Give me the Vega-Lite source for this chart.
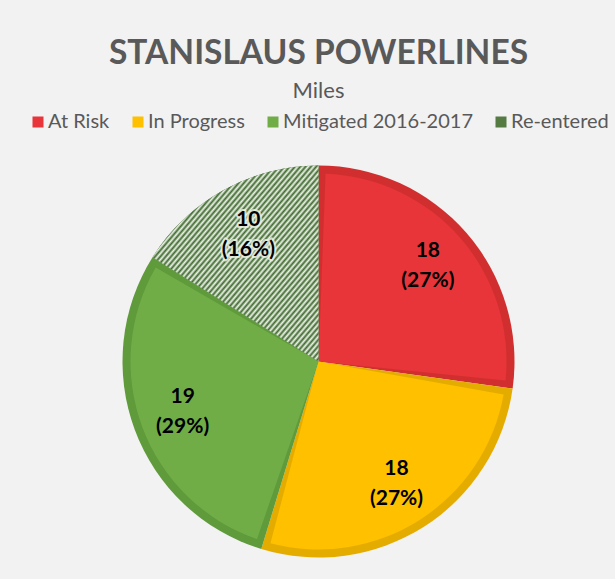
{
  "$schema": "https://vega.github.io/schema/vega-lite/v6.json",
  "width": 615,
  "height": 579,
  "autosize": {"type": "fit", "contains": "padding"},
  "padding": {"left": 22, "right": 0, "top": 36, "bottom": 4},
  "background": "#f2f2f2",
  "title": {
    "text": "STANISLAUS POWERLINES",
    "subtitle": "Miles",
    "anchor": "middle",
    "font": "Lato",
    "fontSize": 33.5,
    "fontWeight": "bold",
    "color": "#595959",
    "subtitleFont": "Lato",
    "subtitleFontSize": 22,
    "subtitleColor": "#595959",
    "subtitlePadding": 10,
    "offset": 9
  },
  "config": {
    "view": {"stroke": null},
    "legend": {"layout": {"top": {"anchor": "middle"}}}
  },
  "data": {
    "values": [
      {"cat": "At Risk", "miles": 17.6, "pct": "(27%)"},
      {"cat": "In Progress", "miles": 17.8, "pct": "(27%)"},
      {"cat": "Mitigated 2016-2017", "miles": 18.9, "pct": "(29%)"},
      {"cat": "Re-entered", "miles": 10.4, "pct": "(16%)"}
    ]
  },
  "encoding": {
    "theta": {"field": "miles", "type": "quantitative", "stack": true},
    "detail": {"field": "cat", "type": "nominal"},
    "order": {"field": "cat", "type": "nominal", "sort": "ascending"}
  },
  "layer": [
    {
      "mark": {"type": "arc", "outerRadius": 196},
      "encoding": {
        "fill": {
          "condition": [
            {"test": "datum.cat === 'At Risk'", "value": "#d12f2f"},
            {"test": "datum.cat === 'In Progress'", "value": "#e5ac00"},
            {"test": "datum.cat === 'Mitigated 2016-2017'", "value": "#5f9a3b"}
          ],
          "value": "#406b2e"
        }
      }
    },
    {
      "mark": {"type": "arc", "outerRadius": 188, "padAngle": 0.075},
      "encoding": {
        "color": {
          "field": "cat",
          "type": "nominal",
          "scale": {
            "domain": ["At Risk", "In Progress", "Mitigated 2016-2017", "Re-entered"],
            "range": ["#e8353a", "#ffc000", "#70ad47", "#557a42"]
          },
          "legend": {
            "orient": "top",
            "direction": "horizontal",
            "title": null,
            "labelFont": "Lato",
            "labelFontSize": 20,
            "labelColor": "#595959",
            "labelLimit": 400,
            "symbolType": "square",
            "symbolSize": 121,
            "symbolStrokeWidth": 0,
            "columnPadding": 18,
            "labelOffset": 0,
            "offset": 16
          }
        }
      }
    },
    {
      "mark": {
        "type": "arc",
        "outerRadius": 196,
        "fill": {
          "gradient": "linear",
          "x1": 0, "y1": 0, "x2": 1, "y2": 1,
          "stops": [
            {"offset": 0, "color": "#3f6a2e"}, {"offset": 0.008, "color": "#eef3ea"},
            {"offset": 0.016, "color": "#3f6a2e"}, {"offset": 0.024, "color": "#eef3ea"},
            {"offset": 0.032, "color": "#3f6a2e"}, {"offset": 0.04, "color": "#eef3ea"},
            {"offset": 0.048, "color": "#3f6a2e"}, {"offset": 0.056, "color": "#eef3ea"},
            {"offset": 0.064, "color": "#3f6a2e"}, {"offset": 0.072, "color": "#eef3ea"},
            {"offset": 0.08, "color": "#3f6a2e"}, {"offset": 0.088, "color": "#eef3ea"},
            {"offset": 0.096, "color": "#3f6a2e"}, {"offset": 0.104, "color": "#eef3ea"},
            {"offset": 0.112, "color": "#3f6a2e"}, {"offset": 0.12, "color": "#eef3ea"},
            {"offset": 0.128, "color": "#3f6a2e"}, {"offset": 0.136, "color": "#eef3ea"},
            {"offset": 0.144, "color": "#3f6a2e"}, {"offset": 0.152, "color": "#eef3ea"},
            {"offset": 0.16, "color": "#3f6a2e"}, {"offset": 0.168, "color": "#eef3ea"},
            {"offset": 0.176, "color": "#3f6a2e"}, {"offset": 0.184, "color": "#eef3ea"},
            {"offset": 0.192, "color": "#3f6a2e"}, {"offset": 0.2, "color": "#eef3ea"},
            {"offset": 0.208, "color": "#3f6a2e"}, {"offset": 0.216, "color": "#eef3ea"},
            {"offset": 0.224, "color": "#3f6a2e"}, {"offset": 0.232, "color": "#eef3ea"},
            {"offset": 0.24, "color": "#3f6a2e"}, {"offset": 0.248, "color": "#eef3ea"},
            {"offset": 0.256, "color": "#3f6a2e"}, {"offset": 0.264, "color": "#eef3ea"},
            {"offset": 0.272, "color": "#3f6a2e"}, {"offset": 0.28, "color": "#eef3ea"},
            {"offset": 0.288, "color": "#3f6a2e"}, {"offset": 0.296, "color": "#eef3ea"},
            {"offset": 0.304, "color": "#3f6a2e"}, {"offset": 0.312, "color": "#eef3ea"},
            {"offset": 0.32, "color": "#3f6a2e"}, {"offset": 0.328, "color": "#eef3ea"},
            {"offset": 0.336, "color": "#3f6a2e"}, {"offset": 0.344, "color": "#eef3ea"},
            {"offset": 0.352, "color": "#3f6a2e"}, {"offset": 0.36, "color": "#eef3ea"},
            {"offset": 0.368, "color": "#3f6a2e"}, {"offset": 0.376, "color": "#eef3ea"},
            {"offset": 0.384, "color": "#3f6a2e"}, {"offset": 0.392, "color": "#eef3ea"},
            {"offset": 0.4, "color": "#3f6a2e"}, {"offset": 0.408, "color": "#eef3ea"},
            {"offset": 0.416, "color": "#3f6a2e"}, {"offset": 0.424, "color": "#eef3ea"},
            {"offset": 0.432, "color": "#3f6a2e"}, {"offset": 0.44, "color": "#eef3ea"},
            {"offset": 0.448, "color": "#3f6a2e"}, {"offset": 0.456, "color": "#eef3ea"},
            {"offset": 0.464, "color": "#3f6a2e"}, {"offset": 0.472, "color": "#eef3ea"},
            {"offset": 0.48, "color": "#3f6a2e"}, {"offset": 0.488, "color": "#eef3ea"},
            {"offset": 0.496, "color": "#3f6a2e"}, {"offset": 0.504, "color": "#eef3ea"},
            {"offset": 0.512, "color": "#3f6a2e"}, {"offset": 0.52, "color": "#eef3ea"},
            {"offset": 0.528, "color": "#3f6a2e"}, {"offset": 0.536, "color": "#eef3ea"},
            {"offset": 0.544, "color": "#3f6a2e"}, {"offset": 0.552, "color": "#eef3ea"},
            {"offset": 0.56, "color": "#3f6a2e"}, {"offset": 0.568, "color": "#eef3ea"},
            {"offset": 0.576, "color": "#3f6a2e"}, {"offset": 0.584, "color": "#eef3ea"},
            {"offset": 0.592, "color": "#3f6a2e"}, {"offset": 0.6, "color": "#eef3ea"},
            {"offset": 0.608, "color": "#3f6a2e"}, {"offset": 0.616, "color": "#eef3ea"},
            {"offset": 0.624, "color": "#3f6a2e"}, {"offset": 0.632, "color": "#eef3ea"},
            {"offset": 0.64, "color": "#3f6a2e"}, {"offset": 0.648, "color": "#eef3ea"},
            {"offset": 0.656, "color": "#3f6a2e"}, {"offset": 0.664, "color": "#eef3ea"},
            {"offset": 0.672, "color": "#3f6a2e"}, {"offset": 0.68, "color": "#eef3ea"},
            {"offset": 0.688, "color": "#3f6a2e"}, {"offset": 0.696, "color": "#eef3ea"},
            {"offset": 0.704, "color": "#3f6a2e"}, {"offset": 0.712, "color": "#eef3ea"},
            {"offset": 0.72, "color": "#3f6a2e"}, {"offset": 0.728, "color": "#eef3ea"},
            {"offset": 0.736, "color": "#3f6a2e"}, {"offset": 0.744, "color": "#eef3ea"},
            {"offset": 0.752, "color": "#3f6a2e"}, {"offset": 0.76, "color": "#eef3ea"},
            {"offset": 0.768, "color": "#3f6a2e"}, {"offset": 0.776, "color": "#eef3ea"},
            {"offset": 0.784, "color": "#3f6a2e"}, {"offset": 0.792, "color": "#eef3ea"},
            {"offset": 0.8, "color": "#3f6a2e"}, {"offset": 0.808, "color": "#eef3ea"},
            {"offset": 0.816, "color": "#3f6a2e"}, {"offset": 0.824, "color": "#eef3ea"},
            {"offset": 0.832, "color": "#3f6a2e"}, {"offset": 0.84, "color": "#eef3ea"},
            {"offset": 0.848, "color": "#3f6a2e"}, {"offset": 0.856, "color": "#eef3ea"},
            {"offset": 0.864, "color": "#3f6a2e"}, {"offset": 0.872, "color": "#eef3ea"},
            {"offset": 0.88, "color": "#3f6a2e"}, {"offset": 0.888, "color": "#eef3ea"},
            {"offset": 0.896, "color": "#3f6a2e"}, {"offset": 0.904, "color": "#eef3ea"},
            {"offset": 0.912, "color": "#3f6a2e"}, {"offset": 0.92, "color": "#eef3ea"},
            {"offset": 0.928, "color": "#3f6a2e"}, {"offset": 0.936, "color": "#eef3ea"},
            {"offset": 0.944, "color": "#3f6a2e"}, {"offset": 0.952, "color": "#eef3ea"},
            {"offset": 0.96, "color": "#3f6a2e"}, {"offset": 0.968, "color": "#eef3ea"},
            {"offset": 0.976, "color": "#3f6a2e"}, {"offset": 0.984, "color": "#eef3ea"},
            {"offset": 0.992, "color": "#3f6a2e"}, {"offset": 1, "color": "#eef3ea"}
          ]
        }
      },
      "encoding": {
        "opacity": {"condition": {"test": "datum.cat === 'Re-entered'", "value": 1}, "value": 0}
      }
    },
    {
      "mark": {"type": "text", "radius": 145, "dy": -15, "font": "Lato", "fontSize": 21, "fontWeight": "bold", "color": "#000000", "stroke": "#eef3ea", "strokeWidth": 4, "strokeJoin": "round"},
      "encoding": {
        "text": {"field": "miles", "type": "quantitative", "format": ".0f"},
        "opacity": {"condition": {"test": "datum.cat === 'Re-entered'", "value": 0.8}, "value": 0}
      }
    },
    {
      "mark": {"type": "text", "radius": 145, "dy": 15, "font": "Lato", "fontSize": 21, "fontWeight": "bold", "color": "#000000", "stroke": "#eef3ea", "strokeWidth": 4, "strokeJoin": "round"},
      "encoding": {
        "text": {"field": "pct", "type": "nominal"},
        "opacity": {"condition": {"test": "datum.cat === 'Re-entered'", "value": 0.8}, "value": 0}
      }
    },
    {
      "mark": {"type": "text", "radius": 145, "dy": -15, "font": "Lato", "fontSize": 21, "fontWeight": "bold", "color": "#000000"},
      "encoding": {
        "text": {"field": "miles", "type": "quantitative", "format": ".0f"}
      }
    },
    {
      "mark": {"type": "text", "radius": 145, "dy": 15, "font": "Lato", "fontSize": 21, "fontWeight": "bold", "color": "#000000"},
      "encoding": {
        "text": {"field": "pct", "type": "nominal"}
      }
    }
  ]
}
